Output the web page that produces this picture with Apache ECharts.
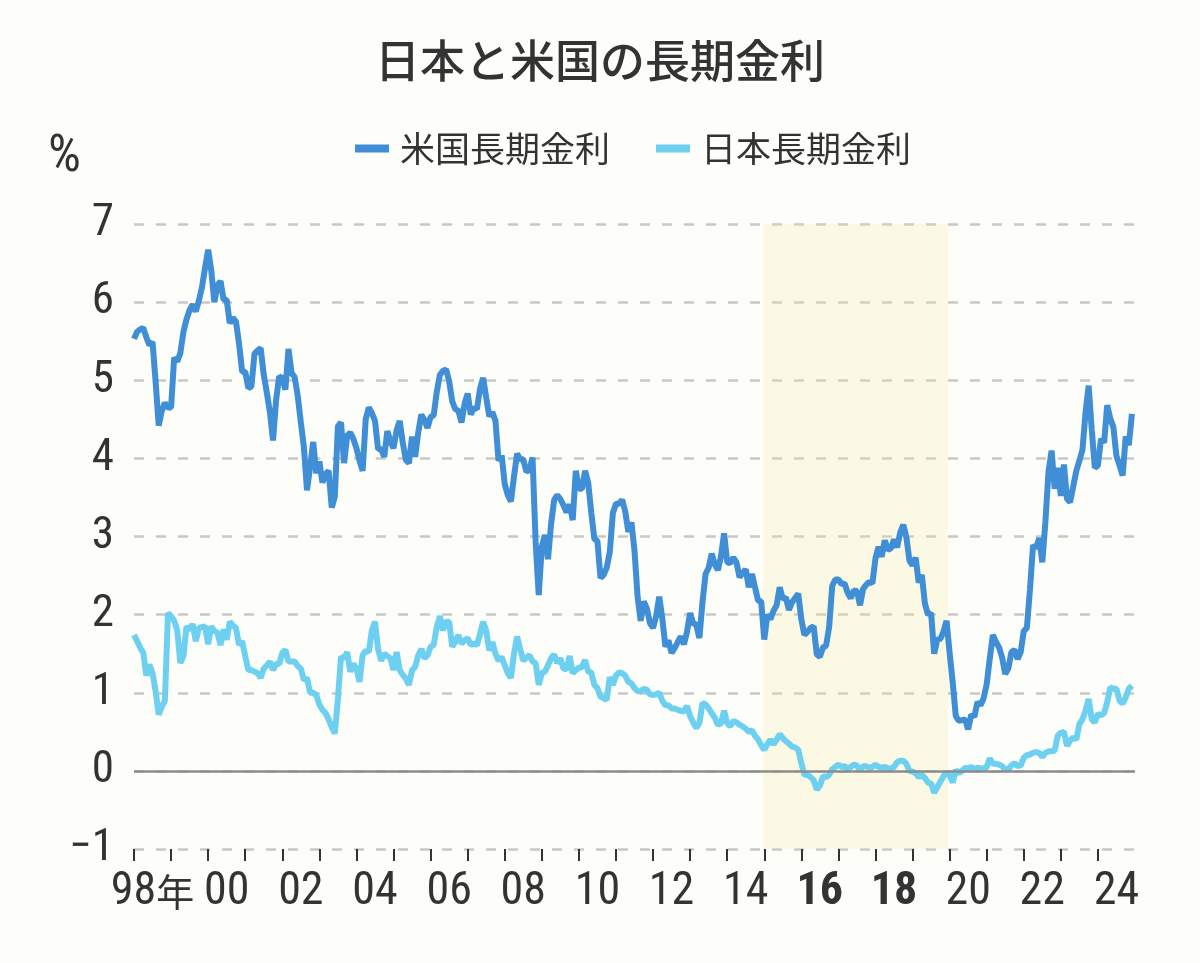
<!DOCTYPE html>
<html>
<head>
<meta charset="utf-8">
<title>日本と米国の長期金利</title>
<script src="https://cdn.jsdelivr.net/npm/echarts@6/dist/echarts.min.js"></script>
<style>
  html, body { margin: 0; padding: 0; background: #fdfdf9; }
  #main { width: 1200px; height: 963px; }
</style>
</head>
<body>
<div id="main"></div>
<script>
// 月末の10年債利回り(%) 1998年1月〜2024年12月
var startYear = 1998;
var usYield = [
  5.53,5.62,5.65,5.67,5.55,5.45,5.49,4.98,4.42,4.61,4.71,4.65, // 98
  4.65,5.29,5.24,5.35,5.62,5.78,5.90,5.97,5.88,6.02,6.19,6.44, // 99
  6.67,6.41,6.00,6.21,6.27,6.03,6.03,5.73,5.80,5.75,5.47,5.11, // 00
  5.11,4.90,4.92,5.34,5.38,5.41,5.07,4.84,4.59,4.23,4.75,5.05, // 01
  5.03,4.88,5.40,5.09,5.04,4.80,4.46,4.14,3.59,3.89,4.21,3.81, // 02
  3.96,3.69,3.80,3.84,3.37,3.51,4.41,4.46,3.94,4.29,4.33,4.25, // 03
  4.13,3.97,3.84,4.50,4.65,4.58,4.48,4.12,4.12,4.02,4.35,4.22, // 04
  4.13,4.36,4.48,4.20,3.98,3.94,4.28,4.02,4.33,4.56,4.49,4.39, // 05
  4.53,4.55,4.85,5.07,5.12,5.14,4.99,4.73,4.63,4.61,4.46,4.70, // 06
  4.83,4.56,4.65,4.63,4.89,5.03,4.78,4.54,4.59,4.48,3.97,4.04, // 07
  3.67,3.53,3.45,3.77,4.06,3.99,3.99,3.83,3.85,4.01,2.93,2.25, // 08
  2.87,3.02,2.71,3.16,3.47,3.53,3.48,3.40,3.31,3.41,3.21,3.84, // 09
  3.61,3.61,3.84,3.69,3.31,2.97,2.94,2.47,2.51,2.60,2.80,3.30, // 10
  3.42,3.42,3.47,3.32,3.06,3.18,2.82,2.23,1.92,2.17,2.08,1.89, // 11
  1.83,1.98,2.23,1.95,1.59,1.67,1.51,1.57,1.65,1.72,1.62,1.78, // 12
  2.02,1.89,1.87,1.70,2.16,2.52,2.60,2.78,2.64,2.57,2.75,3.04, // 13
  2.67,2.66,2.73,2.67,2.48,2.53,2.58,2.35,2.52,2.35,2.18,2.17, // 14
  1.68,2.00,1.94,2.05,2.12,2.35,2.20,2.22,2.06,2.16,2.21,2.27, // 15
  1.94,1.74,1.78,1.83,1.85,1.49,1.46,1.58,1.60,1.84,2.37,2.45, // 16
  2.45,2.39,2.40,2.28,2.21,2.31,2.30,2.12,2.33,2.38,2.42,2.40, // 17
  2.72,2.87,2.74,2.95,2.83,2.85,2.96,2.86,3.05,3.15,2.99,2.69, // 18
  2.63,2.73,2.41,2.51,2.14,2.00,2.02,1.50,1.68,1.69,1.78,1.92, // 19
  1.51,1.13,0.70,0.64,0.65,0.66,0.53,0.72,0.69,0.88,0.84,0.93, // 20
  1.11,1.44,1.74,1.65,1.58,1.45,1.24,1.31,1.52,1.55,1.43,1.52, // 21
  1.79,1.83,2.32,2.89,2.85,2.98,2.67,3.19,3.83,4.10,3.61,3.88, // 22
  3.52,3.92,3.48,3.44,3.64,3.84,3.97,4.11,4.59,4.93,4.37,3.88, // 23
  3.91,4.25,4.20,4.68,4.51,4.40,4.03,3.91,3.78,4.28,4.17,4.57  // 24
];
var jpYield = [
  1.74,1.66,1.58,1.51,1.22,1.36,1.25,1.02,0.72,0.82,0.90,2.02, // 98
  1.98,1.92,1.80,1.38,1.47,1.85,1.80,1.88,1.66,1.83,1.84,1.85, // 99
  1.62,1.85,1.79,1.77,1.61,1.81,1.68,1.91,1.86,1.83,1.61,1.66, // 00
  1.47,1.29,1.29,1.27,1.25,1.19,1.31,1.35,1.40,1.29,1.37,1.37, // 01
  1.51,1.55,1.40,1.40,1.40,1.34,1.31,1.16,1.19,1.00,1.00,0.97, // 02
  0.85,0.78,0.74,0.66,0.56,0.48,0.92,1.46,1.44,1.52,1.27,1.37, // 03
  1.31,1.14,1.48,1.54,1.52,1.80,1.91,1.56,1.41,1.50,1.47,1.44, // 04
  1.29,1.52,1.29,1.23,1.18,1.10,1.29,1.33,1.48,1.56,1.44,1.48, // 05
  1.59,1.61,1.84,1.98,1.80,1.91,1.91,1.59,1.65,1.74,1.63,1.67, // 06
  1.70,1.61,1.63,1.61,1.75,1.91,1.80,1.54,1.65,1.50,1.41,1.46, // 07
  1.35,1.25,1.19,1.50,1.72,1.56,1.41,1.45,1.48,1.40,1.38,1.10, // 08
  1.25,1.27,1.35,1.44,1.49,1.38,1.44,1.31,1.30,1.47,1.25,1.29, // 09
  1.32,1.33,1.42,1.27,1.26,1.10,1.06,0.95,0.93,0.91,1.20,1.10, // 10
  1.22,1.26,1.25,1.22,1.14,1.12,1.06,1.02,1.02,1.05,1.04,0.98, // 11
  0.97,0.98,1.00,0.90,0.84,0.84,0.80,0.80,0.78,0.77,0.76,0.83, // 12
  0.70,0.62,0.55,0.61,0.87,0.85,0.80,0.74,0.68,0.59,0.61,0.77, // 13
  0.61,0.57,0.64,0.62,0.59,0.57,0.54,0.50,0.52,0.45,0.40,0.33, // 14
  0.27,0.34,0.40,0.34,0.40,0.47,0.42,0.38,0.35,0.31,0.30,0.27, // 15
  0.10,-0.05,-0.05,-0.08,-0.12,-0.24,-0.19,-0.07,-0.08,-0.05,0.02,0.05, // 16
  0.08,0.05,0.06,0.02,0.05,0.08,0.07,0.00,0.06,0.06,0.04,0.05, // 17
  0.08,0.05,0.04,0.05,0.03,0.03,0.05,0.11,0.13,0.13,0.09,0.00, // 18
  -0.01,-0.03,-0.08,-0.05,-0.09,-0.15,-0.16,-0.28,-0.21,-0.14,-0.07,-0.02, // 19
  -0.06,-0.15,0.01,-0.03,0.00,0.04,0.03,0.05,0.02,0.04,0.03,0.03, // 20
  0.05,0.16,0.09,0.09,0.08,0.06,0.02,0.02,0.07,0.10,0.06,0.07, // 21
  0.17,0.20,0.21,0.23,0.24,0.23,0.18,0.23,0.25,0.25,0.26,0.45, // 22
  0.49,0.50,0.32,0.39,0.43,0.40,0.60,0.66,0.77,0.92,0.66,0.62, // 23
  0.73,0.71,0.74,0.88,1.07,1.05,1.05,0.90,0.86,0.94,1.05,1.09  // 24
];
var tickYears = [];
for (var y = 1998; y <= 2024; y++) tickYears.push(y);
var labelYears = [1998, 2000, 2002, 2004, 2006, 2008, 2010, 2012, 2014, 2016, 2018, 2020, 2022, 2024];
var boldYears = [2016, 2018];
// 網掛け期間(1998年1月からの月数)
var shadeFrom = 203.8, shadeTo = 263.5;

var numFont = "'Roboto Condensed','Liberation Sans Narrow','Arial Narrow','DejaVu Sans Condensed',Roboto,sans-serif";
var jpFont = "'Noto Sans CJK JP',sans-serif";
var textColor = '#333333';

function monthIndex(year) { return (year - startYear) * 12; }
function toPoints(arr) {
    var out = [];
    for (var i = 0; i < arr.length; i++) out.push([i, arr[i]]);
    return out;
}

var myChart = echarts.init(document.getElementById('main'));
var option = {
    backgroundColor: '#fdfdf9',
    animation: false,
    title: {
        text: '日本と米国の長期金利',
        left: 'center',
        top: 33,
        textStyle: { fontFamily: jpFont, fontSize: 45, fontWeight: 500, color: textColor }
    },
    legend: {
        left: 350,
        top: 126,
        icon: 'rect',
        itemWidth: 34,
        itemHeight: 8,
        itemGap: 46,
        data: ['米国長期金利', '日本長期金利'],
        textStyle: { fontFamily: jpFont, fontSize: 35, color: textColor, padding: [0, 0, 0, 6] }
    },
    graphic: [{
        type: 'text',
        left: 48,
        top: 132,
        style: { text: '%', font: '52px ' + numFont, fill: textColor }
    }],
    grid: { left: 134, right: 65, top: 224, bottom: 114 },
    xAxis: {
        type: 'value',
        min: 0,
        max: 324,
        axisLine: { show: false, onZero: false },
        splitLine: { show: false },
        axisTick: {
            show: true,
            length: 12,
            customValues: tickYears.map(monthIndex),
            lineStyle: { color: textColor, width: 2 }
        },
        axisLabel: {
            customValues: labelYears.map(function (y) { return monthIndex(y) + 6; }),
            margin: 20,
            formatter: function (v) {
                var year = startYear + Math.round((v - 6) / 12);
                var yy = String(year).slice(2);
                if (year === startYear) return '{n|' + yy + '}{k|年}';
                if (boldYears.indexOf(year) >= 0) return '{b|' + yy + '}';
                return '{n|' + yy + '}';
            },
            rich: {
                n: { fontFamily: numFont, fontSize: 46, color: textColor },
                b: { fontFamily: numFont, fontSize: 46, fontWeight: 'bold', color: textColor },
                k: { fontFamily: jpFont, fontSize: 38, color: textColor }
            }
        }
    },
    yAxis: {
        type: 'value',
        min: -1,
        max: 7,
        interval: 1,
        axisLine: { show: false },
        axisTick: { show: false },
        axisLabel: {
            margin: 20,
            fontFamily: numFont,
            fontSize: 45,
            color: textColor,
            formatter: function (v) { return String(v).replace('-', '\u2212'); }
        },
        splitLine: {
            lineStyle: { color: '#c8c8c8', width: 2.5, type: [10, 12] }
        }
    },
    series: [
        {
            name: '米国長期金利',
            type: 'line',
            data: toPoints(usYield),
            symbol: 'none',
            color: '#3f8ed6',
            lineStyle: { width: 6, color: '#3f8ed6' },
            markArea: {
                silent: true,
                itemStyle: { color: 'rgba(248, 238, 160, 0.24)' },
                data: [[{ xAxis: shadeFrom }, { xAxis: shadeTo }]]
            },
            markLine: {
                silent: true,
                symbol: ['none', 'none'],
                label: { show: false },
                lineStyle: { color: '#8c8c8c', type: 'solid', width: 2.5 },
                data: [{ yAxis: 0 }]
            }
        },
        {
            name: '日本長期金利',
            type: 'line',
            data: toPoints(jpYield),
            symbol: 'none',
            color: '#6dd0f1',
            lineStyle: { width: 6, color: '#6dd0f1' }
        }
    ]
};
myChart.setOption(option);
</script>
</body>
</html>
